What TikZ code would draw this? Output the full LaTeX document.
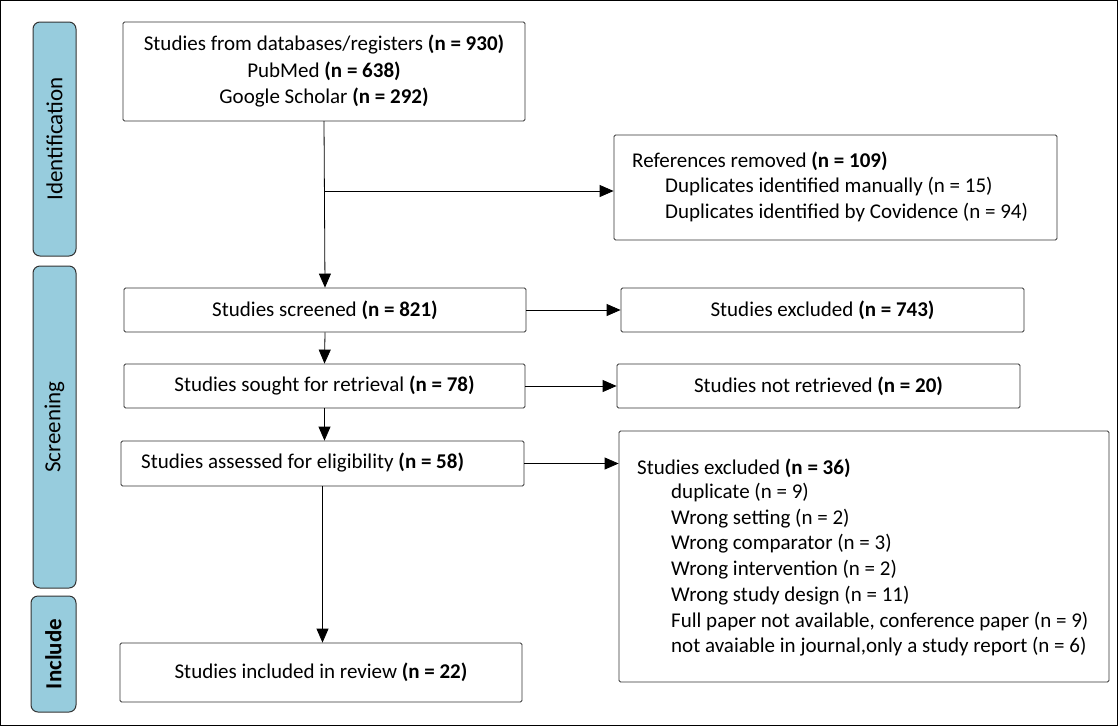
\documentclass[tikz,border=0pt]{standalone}
\usepackage{fontspec}
\setmainfont{Carlito}
\usetikzlibrary{arrows.meta}
\begin{document}
\begin{tikzpicture}[x=1pt,y=-1pt,
  box/.style={draw=black!80,line width=0.8pt,rounded corners=1.5pt},
  tab/.style={draw=black!80,fill=tabc,line width=1pt,rounded corners=7pt},
  arr/.style={-{Triangle[length=14pt,width=12pt]},line width=0.8pt},
  txt/.style={font=\fontsize{21}{24}\selectfont,inner sep=0pt},
  ttl/.style={font=\fontsize{23}{26}\selectfont,rotate=90}]
\definecolor{tabc}{RGB}{151,204,221}
\draw[line width=1pt] (0.5,0.5) rectangle (1117.5,725.5);
\useasboundingbox (0,0) rectangle (1118,726);
% tabs
\draw[tab] (33,22) rectangle (76,256);
\node[ttl] (t1) at (54.5,139) {Identification};
\draw[tab] (33,266) rectangle (76,588);
\node[ttl] (t2) at (54.5,427) {Screening};
\draw[tab] (31,596) rectangle (76,712);
\node[ttl,font=\fontsize{23}{26}\selectfont\bfseries] (t3) at (53.5,654) {Include};
% main boxes
\draw[box] (123,22) rectangle (525,121);
\node (b1) at (324,71.5) [minimum width=402pt,minimum height=99pt] {};
\node[txt] at (324,45) {Studies from databases/registers \textbf{(n = 930)}};
\node[txt] at (324,71) {PubMed \textbf{(n = 638)}};
\node[txt] at (324,98) {Google Scholar \textbf{(n = 292)}};
\node[box,txt,minimum width=402pt,minimum height=44pt] (b2) at (325,310) {Studies screened \textbf{(n = 821)}};
\node[box,txt,minimum width=401pt,minimum height=44pt] (b3) at (324.5,386) {Studies sought for retrieval \textbf{(n = 78)}};
\node[box,minimum width=403pt,minimum height=45pt] (b4) at (322.5,463.5) {};
\node[txt,anchor=west] at (141,463) {Studies assessed for eligibility \textbf{(n = 58)}};
\node[box,txt,minimum width=402pt,minimum height=59pt] (b5) at (321,672.5) {Studies included in review \textbf{(n = 22)}};
% side boxes
\node[box,minimum width=443pt,minimum height=105pt] (r1) at (835.5,187.5) {};
\node[txt,anchor=west] at (632,161) {References removed \textbf{(n = 109)}};
\node[txt,anchor=west] at (665,187) {Duplicates identified manually (n = 15)};
\node[txt,anchor=west] at (665,213) {Duplicates identified by Covidence (n = 94)};
\node[box,txt,minimum width=403pt,minimum height=44pt] (r2) at (822.5,310) {Studies excluded \textbf{(n = 743)}};
\node[box,txt,minimum width=403pt,minimum height=44pt] (r3) at (818.5,386) {Studies not retrieved \textbf{(n = 20)}};
\node[box,minimum width=490pt,minimum height=251pt] (r4) at (864,556.5) {};
\node[txt,anchor=west] at (637,468) {Studies excluded \textbf{(n = 36)}};
\foreach \t [count=\i] in {duplicate (n = 9),Wrong setting (n = 2),Wrong comparator (n = 3),Wrong intervention (n = 2),Wrong study design (n = 11),{Full paper not available, conference paper (n = 9)},{not avaiable in journal,only a study report (n = 6)}}
  \node[txt,anchor=west] at (671,467+25.7*\i) {\t};
% arrows
\coordinate (c1) at (325,191);
\draw[arr] (b1.south) -- (b2.north);
\draw[arr] (c1) -- (r1.west |- c1);
\draw[arr] (b2.east) -- (r2.west);
\draw[arr] (b2.south) -- (b3.north);
\draw[arr] (b3.east) -- (r3.west);
\draw[arr] (b3.south) -- (b3.south |- b4.north);
\draw[arr] (b4.east) -- (r4.west |- b4.east);
\draw[arr] (b4.south) -- (b4.south |- b5.north);
\end{tikzpicture}
\end{document}
